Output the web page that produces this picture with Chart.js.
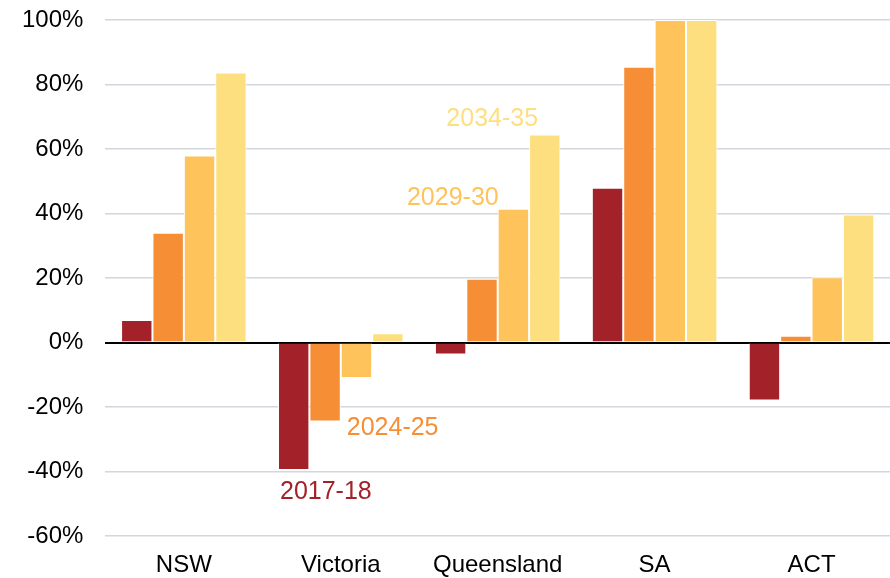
<!DOCTYPE html>
<html>
<head>
<meta charset="utf-8">
<script src="https://cdn.jsdelivr.net/npm/chart.js@4/dist/chart.umd.min.js"></script>
<style>
html,body{margin:0;padding:0;background:#fff;}
#wrap{width:890px;height:578px;position:relative;}
</style>
</head>
<body>
<div id="wrap"><canvas id="c" width="890" height="578"></canvas></div>
<script>
const categories = ["NSW", "Victoria", "Queensland", "SA", "ACT"];
const seriesNames = ["2017-18", "2024-25", "2029-30", "2034-35"];
const s2017 = [7, -39.5, -3.7, 48, -18];
const s2024 = [34, -24.5, 19.8, 85.5, 2.1];
const s2029 = [58, -11, 41.5, 100, 20.2];
const s2034 = [83.7, 2.9, 64.5, 100, 39.7];
const yTicks = [-60, -40, -20, 0, 20, 40, 60, 80, 100];
const colors = ["#a32128", "#f58e35", "#fec35a", "#fedf7f"];

const seriesValues = [s2017, s2024, s2029, s2034];

// label annotation positions: which category bar each series label sits beside
const labelCategory = ["Victoria", "Victoria", "Queensland", "Queensland"];

const FONT = "'Liberation Sans', Arial, Helvetica, sans-serif";

const labelPlugin = {
  id: 'seriesLabels',
  afterDatasetsDraw(chart) {
    const ctx = chart.ctx;
    ctx.save();
    ctx.font = "25px " + FONT;
    seriesNames.forEach((name, i) => {
      const ci = categories.indexOf(labelCategory[i]);
      const el = chart.getDatasetMeta(i).data[ci];
      const left = el.x - el.width / 2, right = el.x + el.width / 2;
      ctx.fillStyle = colors[i];
      ctx.textBaseline = 'middle';
      if (i === 0) {
        ctx.textAlign = 'left';
        ctx.fillText(name, left + 2, el.y + 22);
      } else if (i === 1) {
        ctx.textAlign = 'left';
        ctx.fillText(name, right + 6, el.y + 7);
      } else if (i === 2) {
        ctx.textAlign = 'right';
        ctx.fillText(name, left + 1, el.y - 11);
      } else {
        ctx.textAlign = 'right';
        ctx.fillText(name, left + 9, el.y - 15);
      }
    });
    ctx.restore();
  }
};

new Chart(document.getElementById('c'), {
  type: 'bar',
  data: {
    labels: categories,
    datasets: seriesNames.map((n, i) => ({
      label: n,
      data: seriesValues[i],
      backgroundColor: colors[i],
      borderColor: '#ffffff',
      borderWidth: 1,
      borderSkipped: 'start',
      categoryPercentage: 0.8,
      barPercentage: 1.0
    }))
  },
  options: {
    responsive: false,
    animation: false,
    devicePixelRatio: 1,
    layout: { padding: { top: 20, right: 0, bottom: 0, left: 0 } },
    plugins: { legend: { display: false }, tooltip: { enabled: false } },
    scales: {
      x: {
        grid: { display: false, drawTicks: false },
        border: { display: false },
        ticks: { color: '#000', font: { family: FONT, size: 24 }, padding: 15 },
        afterFit(axis) { axis.height = 42; }
      },
      y: {
        min: -60, max: 100,
        afterBuildTicks(axis) { axis.ticks = yTicks.map(v => ({ value: v })); },
        afterFit(axis) { axis.paddingTop = 0; axis.paddingBottom = 0; },
        border: { display: false },
        grid: {
          color: c => c.tick && c.tick.value === 0 ? '#000000' : '#d3d6db',
          lineWidth: c => c.tick && c.tick.value === 0 ? 2 : 1.5,
          drawTicks: false
        },
        ticks: {
          color: '#000', font: { family: FONT, size: 24 }, padding: 22,
          callback: v => v + '%'
        }
      }
    }
  },
  plugins: [labelPlugin]
});
</script>
</body>
</html>
